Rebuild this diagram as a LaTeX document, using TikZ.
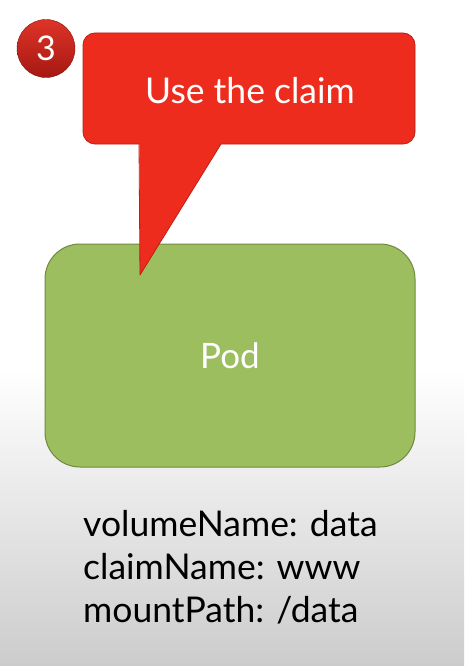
\documentclass[tikz,border=0pt]{standalone}
\usepackage{fontspec}
\setmainfont{Lato}
\usetikzlibrary{shadings}
\definecolor{calloutred}{RGB}{237,44,30}
\definecolor{calloutedge}{RGB}{185,32,22}
\definecolor{podgreen}{RGB}{157,190,95}
\definecolor{podedge}{RGB}{113,137,63}
\definecolor{bggray}{RGB}{204,204,204}
\definecolor{badgetop}{RGB}{222,52,40}
\definecolor{badgebottom}{RGB}{165,24,18}
\tikzset{
  badge/.style={circle, minimum size=58pt, inner sep=0pt, shade, top color=badgetop, bottom color=badgebottom, draw=badgebottom!80!black, line width=0.4pt, text=white, font=\fontsize{34}{40}\selectfont},
  calloutbox/.style={fill=calloutred, draw=calloutedge, line width=0.8pt, rounded corners=12pt},
  calloutfill/.style={fill=calloutred},
  calloutline/.style={draw=calloutedge, line width=0.8pt, line join=round},
  podbox/.style={rectangle, rounded corners=35pt, fill=podgreen, draw=podedge, line width=1pt, minimum width=370pt, minimum height=223pt, text=white, font=\fontsize{35}{42}\selectfont},
  calltext/.style={text=white, font=\fontsize{35.5}{42}\selectfont},
  spec/.style={align=left, anchor=north west, inner sep=0pt, font=\fontsize{35.5}{43}\selectfont, text=black}
}
\begin{document}
\begin{tikzpicture}[x=1pt,y=-1pt]
\useasboundingbox (0,0) rectangle (464,666);
\fill[white] (0,0) rectangle (464,370);
\shade[top color=white, bottom color=bggray] (0,369.5) rectangle (464,666);
% pod
\node[podbox] (pod) at (230,355.5) {Pod};
% callout
\draw[calloutbox] (83,33) rectangle (415,144);
\coordinate (pl) at (139,144);
\coordinate (pr) at (221,144);
\coordinate (tip) at (140,275);
\fill[calloutfill] (139.4,141.5) -- (tip) -- (222.5,141.5) -- cycle;
\draw[calloutline] (pl) -- (tip) -- (pr);
\node[calltext] (claim) at (250,91) {Use the claim};
% badge
\node[badge] (three) at (46,48.5) {3};
% spec text
\node[spec] (specs) at (83,510) {volumeName: data\\claimName: www\\mountPath: /data};
\end{tikzpicture}
\end{document}
